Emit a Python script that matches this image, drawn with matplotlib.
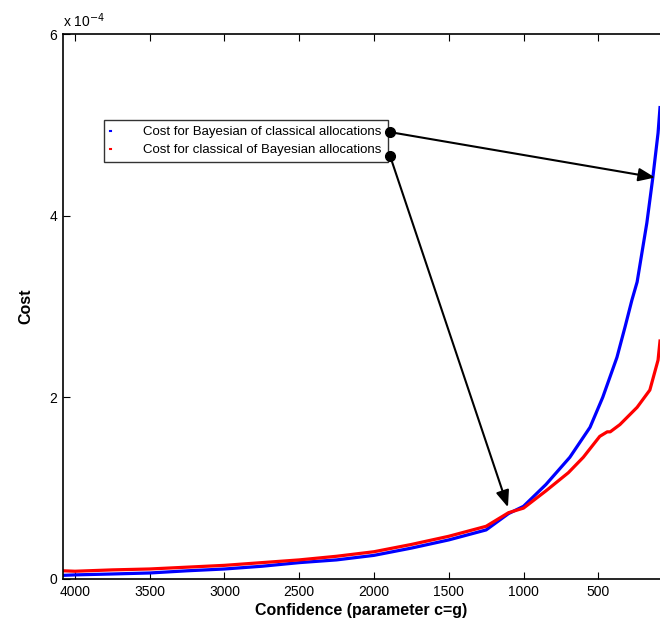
import numpy as np
import matplotlib
matplotlib.use('Agg')
import matplotlib.pyplot as plt

plt.rcParams['font.family'] = ['Liberation Sans', 'DejaVu Sans']

# confidence parameter c=g (x axis, reversed)
conf_blue = [4080, 4000, 3750, 3500, 3250, 3000, 2750, 2500, 2250, 2000, 1750, 1500, 1250,
             1100, 1000, 850, 690, 555, 470, 375, 320, 275, 240, 175, 135, 100, 87]
# cost in units of 1e-4
cost_blue = [0.04, 0.045, 0.055, 0.066, 0.09, 0.11, 0.14, 0.18, 0.21, 0.26, 0.34, 0.43, 0.54,
             0.72, 0.80, 1.04, 1.34, 1.67, 2.0, 2.44, 2.78, 3.07, 3.27, 3.92, 4.42, 4.91, 5.19]

conf_red = [4080, 4000, 3750, 3500, 3250, 3000, 2750, 2500, 2250, 2000, 1750, 1500, 1250,
            1100, 1000, 850, 700, 600, 490, 440, 420, 355, 240, 155, 100, 87]
cost_red = [0.09, 0.085, 0.10, 0.11, 0.13, 0.15, 0.18, 0.21, 0.25, 0.30, 0.38, 0.47, 0.58,
            0.73, 0.78, 0.97, 1.17, 1.34, 1.57, 1.62, 1.62, 1.70, 1.89, 2.08, 2.41, 2.62]

labels = ['Cost for Bayesian of classical allocations',
          'Cost for classical of Bayesian allocations']
x_ticks = [4000, 3500, 3000, 2500, 2000, 1500, 1000, 500]
y_ticks = [0, 2, 4, 6]

# annotation arrows: start (dot) and tip, data coords
arrow_start = [(1893, 4.92), (1893, 4.66)]
arrow_tip = [(120, 4.42), (1104, 0.79)]

fig = plt.figure(figsize=(6.6, 6.3), dpi=100)
ax = fig.add_axes([0.0955, 0.081, 0.9045, 0.865])

ax.plot(conf_blue, cost_blue, color='blue', lw=2.3, label=labels[0])
ax.plot(conf_red, cost_red, color='red', lw=2.3, label=labels[1])

ax.set_xlim(4080, 87)
ax.set_ylim(0, 6)
ax.set_xticks(x_ticks)
ax.set_yticks(y_ticks)
ax.tick_params(direction='in', length=5, width=0.8, labelsize=10, top=True, pad=4)
for s in ['left', 'bottom', 'top']:
    ax.spines[s].set_linewidth(1.2)
ax.spines['right'].set_visible(False)

ax.text(0.0, 1.008, r'x 10$^{-4}$', transform=ax.transAxes, fontsize=10, va='bottom', ha='left')

ax.set_xlabel('Confidence (parameter c=g)', fontsize=11.5, fontweight='bold', labelpad=3)
ax.set_ylabel('Cost', fontsize=11.5, fontweight='bold', labelpad=12)

leg = ax.legend(loc='upper left', bbox_to_anchor=(0.068, 0.842), fontsize=9.5,
                handlelength=0.12, handletextpad=2.45, frameon=True, fancybox=False,
                borderpad=0.45, labelspacing=0.45, borderaxespad=0)
leg.get_frame().set_edgecolor('black')
leg.get_frame().set_linewidth(1.0)
leg.set_zorder(4)
for h in leg.get_lines():
    h.set_linewidth(1.5)

for (sx, sy), (tx, ty) in zip(arrow_start, arrow_tip):
    ax.annotate('', xy=(tx, ty), xytext=(sx, sy),
                arrowprops=dict(arrowstyle='-|>,head_length=1.0,head_width=0.4',
                                color='black', lw=1.5, shrinkA=0, shrinkB=0), zorder=5)
    ax.plot(sx, sy, 'o', color='black', ms=7, zorder=6)

fig.savefig('out.png', dpi=100)
